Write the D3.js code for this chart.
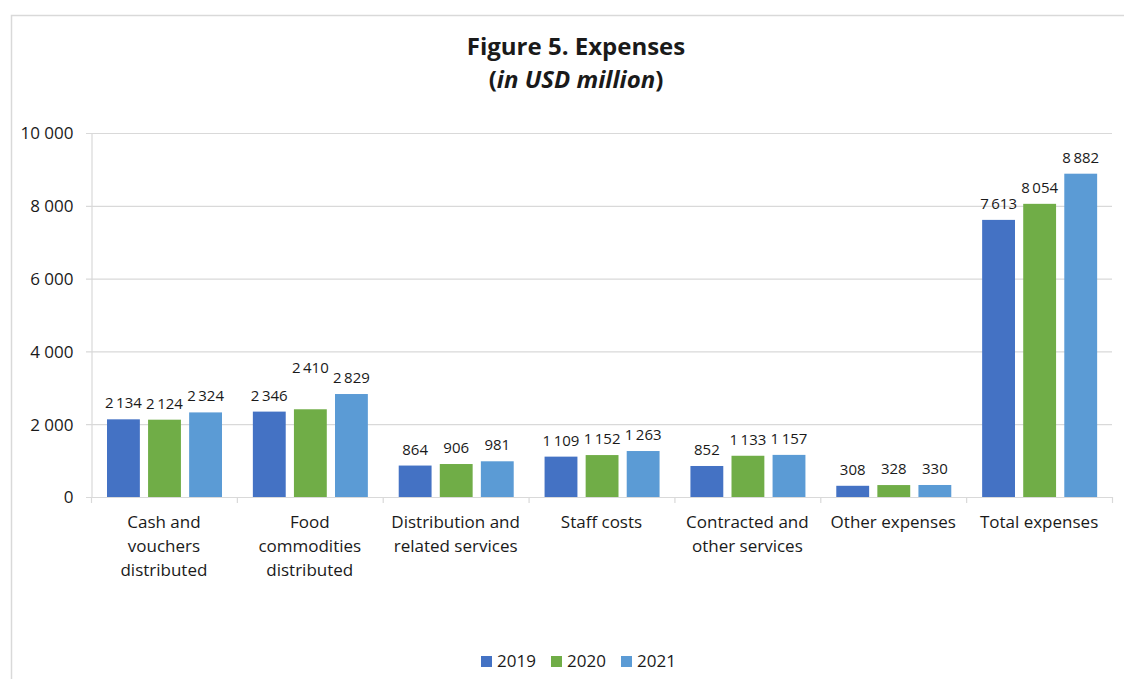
<!DOCTYPE html>
<html>
<head>
<meta charset="utf-8">
<script src="https://cdn.jsdelivr.net/npm/d3@7"></script>
<style>
  body { margin: 0; background: #fff; }
  text { font-family: "Open Sans", "Noto Sans", sans-serif; fill: #1a1a1a; }
</style>
</head>
<body>
<svg id="chart"></svg>
<script>
var categories = [
  ["Cash and", "vouchers", "distributed"],
  ["Food", "commodities", "distributed"],
  ["Distribution and", "related services"],
  ["Staff costs"],
  ["Contracted and", "other services"],
  ["Other expenses"],
  ["Total expenses"]
];
var years = ["2019", "2020", "2021"];
var values2019 = [2134, 2346, 864, 1109, 852, 308, 7613];
var values2020 = [2124, 2410, 906, 1152, 1133, 328, 8054];
var values2021 = [2324, 2829, 981, 1263, 1157, 330, 8882];
var yTicks = [0, 2000, 4000, 6000, 8000, 10000];

var colors = ["#4472C4", "#70AD47", "#5B9BD5"];
var series = [values2019, values2020, values2021];

var width = 1124, height = 679;
var plotLeft = 91, plotRight = 1112, plotTop = 133, plotBottom = 497;

var svg = d3.select("#chart").attr("width", width).attr("height", height);

// outer frame
svg.append("rect")
  .attr("x", 11.5).attr("y", 15.5)
  .attr("width", width).attr("height", height)
  .attr("fill", "none").attr("stroke", "#d9d9d9").attr("stroke-width", 1.5);

// title
svg.append("text")
  .attr("x", 576).attr("y", 55)
  .attr("text-anchor", "middle")
  .style("font-size", "24px").style("font-weight", "bold")
  .text("Figure 5. Expenses");
var sub = svg.append("text")
  .attr("x", 576).attr("y", 88)
  .attr("text-anchor", "middle")
  .style("font-size", "24px").style("font-weight", "bold");
sub.append("tspan").text("(");
sub.append("tspan").style("font-style", "italic").text("in USD million");
sub.append("tspan").text(")");

var x0 = d3.scaleBand()
  .domain(d3.range(categories.length))
  .range([plotLeft, plotRight]);

var x1 = d3.scaleBand()
  .domain(d3.range(years.length))
  .range([16, 131])
  .paddingInner(0.2);

var y = d3.scaleLinear().domain([0, 10000]).range([plotBottom, plotTop]);

var fmt = function(v) { return d3.format(",")(v).replace(/,/g, "\u2009"); };
var fmtTick = function(v) { return d3.format(",")(v).replace(/,/g, " "); };

// gridlines
svg.append("g").selectAll("line")
  .data(yTicks)
  .enter().append("line")
  .attr("x1", plotLeft - 5).attr("x2", plotRight)
  .attr("y1", function(d) { return y(d) + 0.5; })
  .attr("y2", function(d) { return y(d) + 0.5; })
  .attr("stroke", "#d9d9d9").attr("stroke-width", 1.2);

// y axis
var yAxis = svg.append("g")
  .attr("transform", "translate(" + (plotLeft + 0.5) + ",0.5)")
  .call(d3.axisLeft(y).tickValues(yTicks).tickSize(0).tickPadding(18).tickFormat(fmtTick));
yAxis.select(".domain").attr("stroke", "#d9d9d9").attr("stroke-width", 1.2);
yAxis.selectAll("text").style("font-size", "17px").style("fill", "#1a1a1a")
  .style("font-family", "'Open Sans', 'Noto Sans', sans-serif");

// category separator ticks
svg.append("g").selectAll("line")
  .data(d3.range(categories.length + 1))
  .enter().append("line")
  .attr("x1", function(i) { return (i < categories.length ? x0(i) : plotRight) + 0.5; })
  .attr("x2", function(i) { return (i < categories.length ? x0(i) : plotRight) + 0.5; })
  .attr("y1", plotBottom).attr("y2", plotBottom + 6)
  .attr("stroke", "#d9d9d9").attr("stroke-width", 1.2);

// bars
var groups = svg.append("g").selectAll("g")
  .data(categories)
  .enter().append("g")
  .attr("transform", function(d, i) { return "translate(" + x0(i) + ",0)"; });

groups.each(function(d, ci) {
  var g = d3.select(this);
  series.forEach(function(vals, si) {
    var v = vals[ci];
    g.append("rect")
      .attr("x", x1(si))
      .attr("y", y(v))
      .attr("width", x1.bandwidth())
      .attr("height", y(0) - y(v))
      .attr("fill", colors[si]);
    // Excel pushed the 2 410 label up to clear its neighbours
    var nudge = (ci === 1 && si === 1) ? 25 : 0;
    g.append("text")
      .attr("x", x1(si) + x1.bandwidth() / 2)
      .attr("y", y(v) - 11 - nudge)
      .attr("text-anchor", "middle")
      .style("font-size", "15px")
      .text(fmt(v));
  });
  var label = g.append("text")
    .attr("text-anchor", "middle")
    .style("font-size", "17px");
  d.forEach(function(line, li) {
    label.append("tspan")
      .attr("x", x0.bandwidth() / 2)
      .attr("y", 528 + li * 24)
      .text(line);
  });
});

// legend
var legend = svg.append("g").selectAll("g")
  .data(years)
  .enter().append("g")
  .attr("transform", function(d, i) { return "translate(" + (481 + i * 70) + ",656)"; });
legend.append("rect")
  .attr("width", 11).attr("height", 11)
  .attr("fill", function(d, i) { return colors[i]; });
legend.append("text")
  .attr("x", 16).attr("y", 11)
  .style("font-size", "17px")
  .text(function(d) { return d; });
</script>
</body>
</html>
